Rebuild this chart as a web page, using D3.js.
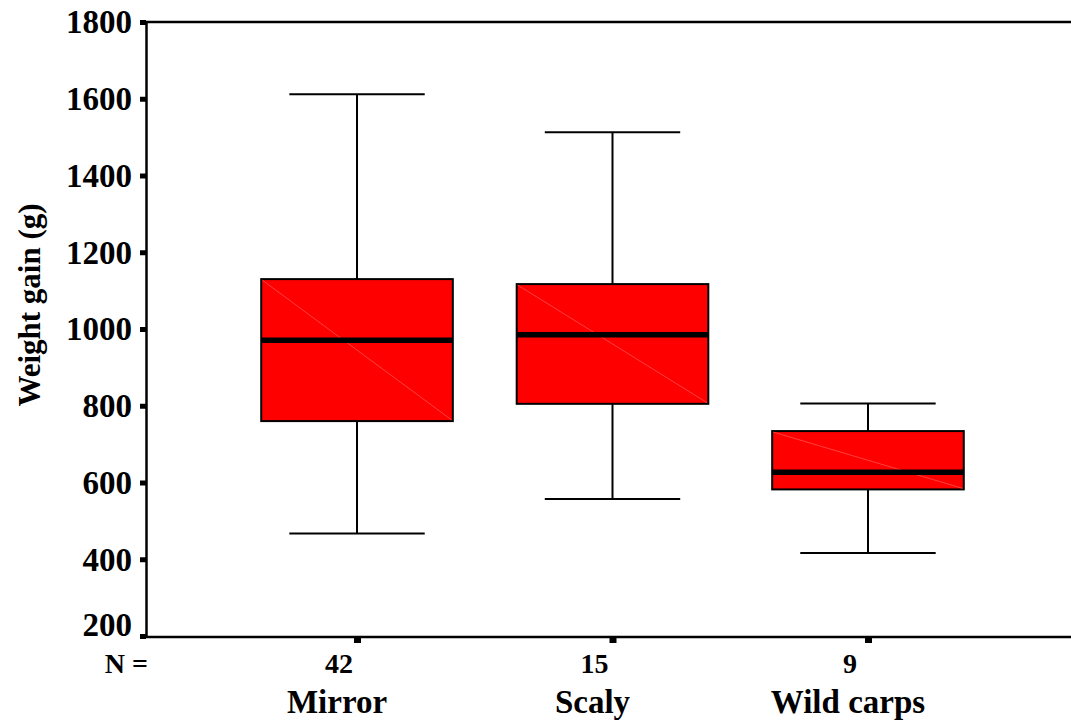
<!DOCTYPE html>
<html><head><meta charset="utf-8">
<script src="https://cdn.jsdelivr.net/npm/d3@7"></script>
<style>
html,body{margin:0;padding:0;background:#fff;}
svg{display:block;}
text{font-family:"Liberation Serif","Times New Roman",serif;font-weight:bold;fill:#000;}
</style></head>
<body>
<svg id="chart" width="1071" height="724"></svg>
<script>
const categories = ["Mirror", "Scaly", "Wild carps"];
const counts = [42, 15, 9];
const whiskerLow = [467, 557, 416];
const q1 = [760, 805, 582];
const medians = [971, 985, 627];
const q3 = [1130, 1117, 734];
const whiskerHigh = [1612, 1513, 806];
const yTicks = [200, 400, 600, 800, 1000, 1200, 1400, 1600, 1800];

const svg = d3.select("#chart");
const mLeft = 146, mTop = 22, mBottom = 636, mRight = 1071;

const y = d3.scaleLinear().domain([200, 1800]).range([mBottom, mTop]);
const x = d3.scalePoint().domain(categories).range([mLeft, 1079]).padding(0.826);
const step = x.step();
const boxW = step * 0.75;
const capW = step * 0.53;

// frame lines
svg.append("line").attr("x1", mLeft).attr("x2", mRight).attr("y1", mTop).attr("y2", mTop)
  .attr("stroke", "#000").attr("stroke-width", 2.5);
svg.append("line").attr("x1", mLeft).attr("x2", mRight).attr("y1", mBottom + 1).attr("y2", mBottom + 1)
  .attr("stroke", "#000").attr("stroke-width", 2.5);

// y axis
const yAxis = d3.axisLeft(y).tickValues(yTicks).tickSize(6).tickSizeOuter(0).tickFormat(d3.format("d"));
const gy = svg.append("g").attr("transform", `translate(${mLeft},0)`).call(yAxis);
gy.attr("font-family", null).attr("font-size", null);
gy.select(".domain").attr("stroke", "#000").attr("stroke-width", 2.5);
gy.selectAll(".tick line").attr("stroke", "#000").attr("stroke-width", 5);
gy.selectAll(".tick text").attr("x", -14).attr("dy", "0.33em")
  .attr("transform", d => d === 200 ? "translate(0,-11)" : null)
  .style("font-size", "33px").style("font-family", "Liberation Serif").style("font-weight", "bold");

// x axis ticks
const xAxis = d3.axisBottom(x).tickSize(6).tickSizeOuter(0).tickFormat("");
const gx = svg.append("g").attr("transform", `translate(0,${mBottom + 1})`).call(xAxis);
gx.select(".domain").remove();
gx.selectAll(".tick line").attr("stroke", "#000").attr("stroke-width", 7);

// boxes
const data = categories.map((c, i) => ({c, lo: whiskerLow[i], q1: q1[i], med: medians[i], q3: q3[i], hi: whiskerHigh[i], n: counts[i]}));
const g = svg.append("g");
data.forEach(d => {
  const cx = x(d.c);
  g.append("line").attr("x1", cx).attr("x2", cx).attr("y1", y(d.hi)).attr("y2", y(d.q3)).attr("stroke", "#000").attr("stroke-width", 2);
  g.append("line").attr("x1", cx).attr("x2", cx).attr("y1", y(d.q1)).attr("y2", y(d.lo)).attr("stroke", "#000").attr("stroke-width", 2);
  g.append("line").attr("x1", cx - capW / 2).attr("x2", cx + capW / 2).attr("y1", y(d.hi)).attr("y2", y(d.hi)).attr("stroke", "#000").attr("stroke-width", 2);
  g.append("line").attr("x1", cx - capW / 2).attr("x2", cx + capW / 2).attr("y1", y(d.lo)).attr("y2", y(d.lo)).attr("stroke", "#000").attr("stroke-width", 2);
  g.append("rect").attr("x", cx - boxW / 2).attr("y", y(d.q3)).attr("width", boxW).attr("height", y(d.q1) - y(d.q3))
    .attr("fill", "#ff0000").attr("stroke", "#000").attr("stroke-width", 2);
  g.append("line").attr("x1", cx - boxW / 2 + 1).attr("y1", y(d.q3) + 1).attr("x2", cx + boxW / 2 - 1).attr("y2", y(d.q1) - 1)
    .attr("stroke", "#ff5a5a").attr("stroke-width", 0.7);
  g.append("line").attr("x1", cx - boxW / 2).attr("x2", cx + boxW / 2).attr("y1", y(d.med)).attr("y2", y(d.med))
    .attr("stroke", "#000").attr("stroke-width", 5.5);
});

// N labels
svg.append("text").attr("x", 148).attr("y", 673).attr("text-anchor", "end").style("font-size", "28px").text("N =");
svg.selectAll(".nlab").data(data).join("text").attr("class", "nlab")
  .attr("x", d => x(d.c) - 18).attr("y", 673).attr("text-anchor", "middle").style("font-size", "28px").text(d => d.n);
svg.selectAll(".clab").data(data).join("text").attr("class", "clab")
  .attr("x", d => x(d.c) - 20).attr("y", 713).attr("text-anchor", "middle").style("font-size", "33px").text(d => d.c);

// y title
svg.append("text").attr("transform", "translate(40,305) rotate(-90)").attr("text-anchor", "middle")
  .style("font-size", "31px").text("Weight gain (g)");
</script>
</body></html>
